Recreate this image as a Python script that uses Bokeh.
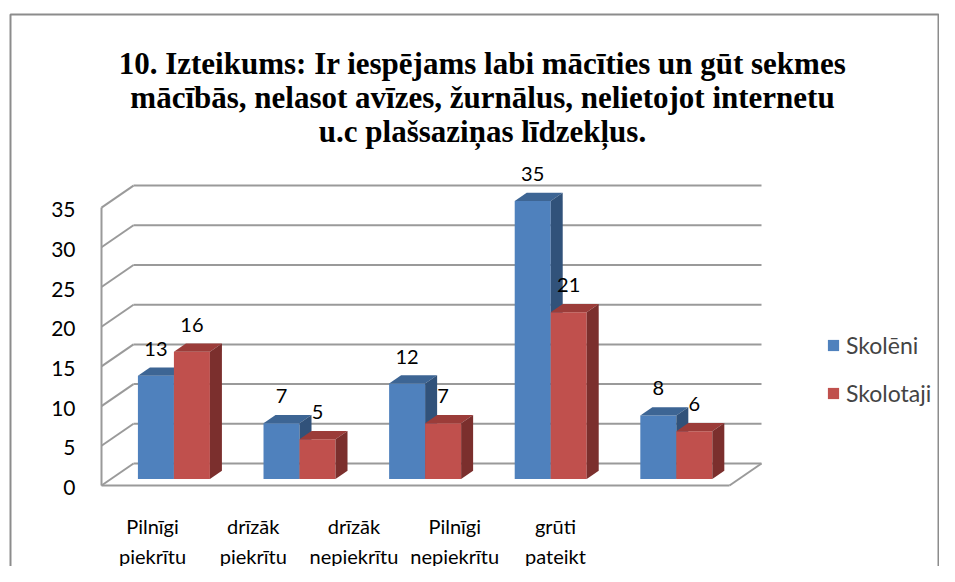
from bokeh.plotting import figure
from bokeh.models import Range1d, Legend, LegendItem, ColumnDataSource
from bokeh.core.properties import value
from bokeh.embed import file_html
from bokeh.resources import INLINE

# ---------------- data ----------------
CAT_LINE1 = ["Pilnīgi", "drīzāk", "drīzāk", "Pilnīgi", "grūti"]
CAT_LINE2 = ["piekrītu", "piekrītu", "nepiekrītu", "nepiekrītu", "pateikt"]
SKOLENI = [13, 7, 12, 35, 8]
SKOLOTAJI = [16, 5, 7, 21, 6]
SERIES_NAMES = ["Skolēni", "Skolotaji"]
Y_TICKS = [0, 5, 10, 15, 20, 25, 30, 35]
TITLE_LINES = [
    "10. Izteikums: Ir iespējams labi mācīties un gūt sekmes",
    "mācībās, nelasot avīzes, žurnālus, nelietojot internetu",
    "u.c plašsaziņas līdzekļus.",
]

# ---------------- layout / style ----------------
W, H = 939, 566
ORIGIN_X, ORIGIN_Y = 101, 485      # canvas px of front plane (x=0, value=0)
PX_CAT = 125.6                     # px per category
PX_VAL = 7.94                      # px per value unit
DX = 32 / PX_CAT                   # depth shift in category units
DY = 22 / PX_VAL                   # depth shift in value units
BAR_W = 36 / PX_CAT
CLUSTER_START = 0.2135
F0 = 0.30                          # depth fraction of bar front face
FD = 0.375                         # depth fraction of bar thickness
GRID_COLOR = "#9a9a9a"
FRONT = ["#4F81BD", "#C0504D"]
TOP = ["#3D6594", "#9B3C39"]
SIDE = ["#31527A", "#7B2F2D"]
FONT = "Lato"


def px(xc):
    return (xc - ORIGIN_X) / PX_CAT


def py(yc):
    return (ORIGIN_Y - yc) / PX_VAL


p = figure(width=W, height=H, output_backend="svg", toolbar_location=None,
           x_range=Range1d(px(0), px(W)),
           y_range=Range1d(py(H), py(0)),
           x_axis_type=None, y_axis_type=None,
           min_border=0, min_border_left=0, min_border_right=0,
           min_border_top=0, min_border_bottom=0)
p.outline_line_color = None
p.grid.visible = False
p.background_fill_color = "white"
p.border_fill_color = "white"

# chart border
p.line([px(10), px(10), px(W - 1), px(W - 1)],
       [py(H), py(14), py(14), py(H)],
       line_color="#8c8c8c", line_width=2)

# ---------------- 3D walls ----------------
n = len(SKOLENI)
top_tick = Y_TICKS[-1]
back_xs = [[DX, n + DX] for t in Y_TICKS]
back_ys = [[t + DY, t + DY] for t in Y_TICKS]
side_xs = [[0, DX] for t in Y_TICKS]
side_ys = [[t, t + DY] for t in Y_TICKS]
p.multi_line(back_xs + side_xs + [[0, 0], [0, n], [n, n + DX]],
             back_ys + side_ys + [[0, top_tick], [0, 0], [0, DY]],
             line_color=GRID_COLOR, line_width=2)

# ---------------- bars ----------------
legend_items = []
for s, vals in enumerate([SKOLENI, SKOLOTAJI]):
    x0 = [i + CLUSTER_START + s * BAR_W + F0 * DX for i in range(n)]
    x1 = [a + BAR_W for a in x0]
    yb = [F0 * DY] * n
    yt = [F0 * DY + v for v in vals]
    src = ColumnDataSource(dict(left=x0, right=x1, bottom=yb, top=yt))
    r = p.quad(left="left", right="right", bottom="bottom", top="top", source=src,
               fill_color=FRONT[s], line_color=None)
    legend_items.append(LegendItem(label=SERIES_NAMES[s], renderers=[r]))
    top_xs = [[a, b, b + FD * DX, a + FD * DX] for a, b in zip(x0, x1)]
    top_ys = [[t, t, t + FD * DY, t + FD * DY] for t in yt]
    p.patches(top_xs, top_ys, fill_color=TOP[s], line_color=None)
    sd_xs = [[b, b, b + FD * DX, b + FD * DX] for b in x1]
    sd_ys = [[lo, t, t + FD * DY, lo + FD * DY] for lo, t in zip(yb, yt)]
    p.patches(sd_xs, sd_ys, fill_color=SIDE[s], line_color=None)
    # data labels
    p.text(x=[(a + b) / 2 for a, b in zip(x0, x1)], y=yt, text=[str(v) for v in vals],
           y_offset=-27, text_align="center", text_baseline="middle",
           text_font=value(FONT), text_font_size="20px", text_color="black")

# ---------------- y tick labels ----------------
p.text(x=[px(75)] * len(Y_TICKS), y=Y_TICKS, text=[str(t) for t in Y_TICKS],
       y_offset=2, text_align="right", text_baseline="middle",
       text_font=value(FONT), text_font_size="21px", text_color="black")

# ---------------- category labels ----------------
lab_x = [px(152 + 100.75 * i) for i in range(n)]
p.text(x=lab_x, y=[py(525)] * n, text=CAT_LINE1, text_align="center",
       text_baseline="alphabetic", text_font=value(FONT), text_font_size="20px",
       text_color="black")
p.text(x=lab_x, y=[py(555)] * n, text=CAT_LINE2, text_align="center",
       text_baseline="alphabetic", text_font=value(FONT), text_font_size="20px",
       text_color="black")

# ---------------- title ----------------
p.text(x=[px(482)] * 3, y=[py(63), py(97), py(131)], text=TITLE_LINES,
       text_align="center", text_baseline="alphabetic",
       text_font=value("Liberation Serif"), text_font_style="bold",
       text_font_size="31px", text_color="black")

# ---------------- legend ----------------
legend = Legend(items=legend_items, location=(826, 159),
                label_text_font=FONT, label_text_font_size="23px",
                glyph_width=14, glyph_height=14, label_height=24,
                label_standoff=6, spacing=20, padding=0, margin=0,
                border_line_color=None, background_fill_alpha=0)
p.add_layout(legend)

open("out.html", "w").write(file_html(p, INLINE))
